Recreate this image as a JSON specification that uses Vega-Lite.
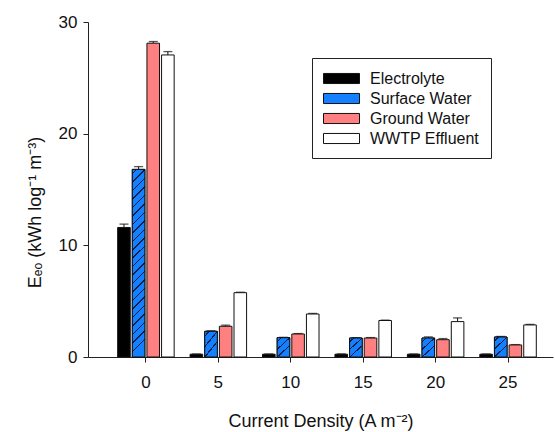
{
  "$schema": "https://vega.github.io/schema/vega-lite/v6.json",
  "autosize": "none",
  "padding": {"left": 88, "top": 22, "right": 2, "bottom": 75},
  "width": 465,
  "height": 335,
  "background": "white",
  "config": {
    "font": "Liberation Sans",
    "view": {"stroke": null},
    "axis": {"labelFont": "Liberation Sans", "titleFont": "Liberation Sans", "labelColor": "#111", "titleColor": "#111", "domainColor": "#222", "tickColor": "#222", "titleFontWeight": "normal", "grid": false}
  },
  "data": {
    "values": [
      {"cd": "0", "series": "Electrolyte", "value": 11.6, "hi": 11.9},
      {"cd": "0", "series": "Surface Water", "value": 16.8, "hi": 17.05},
      {"cd": "0", "series": "Ground Water", "value": 28.1, "hi": 28.25},
      {"cd": "0", "series": "WWTP Effluent", "value": 27.05, "hi": 27.35},
      {"cd": "5", "series": "Electrolyte", "value": 0.25, "hi": 0.27},
      {"cd": "5", "series": "Surface Water", "value": 2.3, "hi": 2.35},
      {"cd": "5", "series": "Ground Water", "value": 2.75, "hi": 2.85},
      {"cd": "5", "series": "WWTP Effluent", "value": 5.76, "hi": 5.8},
      {"cd": "10", "series": "Electrolyte", "value": 0.25, "hi": 0.27},
      {"cd": "10", "series": "Surface Water", "value": 1.73, "hi": 1.76},
      {"cd": "10", "series": "Ground Water", "value": 2.06, "hi": 2.1},
      {"cd": "10", "series": "WWTP Effluent", "value": 3.85, "hi": 3.9},
      {"cd": "15", "series": "Electrolyte", "value": 0.25, "hi": 0.27},
      {"cd": "15", "series": "Surface Water", "value": 1.7, "hi": 1.73},
      {"cd": "15", "series": "Ground Water", "value": 1.7, "hi": 1.74},
      {"cd": "15", "series": "WWTP Effluent", "value": 3.27, "hi": 3.3},
      {"cd": "20", "series": "Electrolyte", "value": 0.25, "hi": 0.27},
      {"cd": "20", "series": "Surface Water", "value": 1.7, "hi": 1.8},
      {"cd": "20", "series": "Ground Water", "value": 1.55, "hi": 1.65},
      {"cd": "20", "series": "WWTP Effluent", "value": 3.17, "hi": 3.5},
      {"cd": "25", "series": "Electrolyte", "value": 0.25, "hi": 0.27},
      {"cd": "25", "series": "Surface Water", "value": 1.79, "hi": 1.84},
      {"cd": "25", "series": "Ground Water", "value": 1.08, "hi": 1.11},
      {"cd": "25", "series": "WWTP Effluent", "value": 2.87, "hi": 2.92}
    ]
  },
  "encoding": {
    "x": {
      "field": "cd", "type": "ordinal", "sort": ["0", "5", "10", "15", "20", "25"],
      "scale": {"paddingInner": 0.22, "paddingOuter": 0.32, "align": 0.64},
      "axis": {"title": "Current Density (A m⁻²)", "labelAngle": 0, "labelFontSize": 17, "titleFontSize": 18, "tickSize": 5, "labelPadding": 12, "titlePadding": 22, "domainWidth": 1}
    },
    "xOffset": {
      "field": "series", "type": "nominal",
      "sort": ["Electrolyte", "Surface Water", "Ground Water", "WWTP Effluent"],
      "scale": {"paddingInner": 0.14, "paddingOuter": 0}
    }
  },
  "layer": [
    {
      "mark": {"type": "rule", "color": "#111", "strokeWidth": 1},
      "encoding": {
        "y": {"field": "value", "type": "quantitative"},
        "y2": {"field": "hi"}
      }
    },
    {
      "mark": {"type": "tick", "color": "#111", "thickness": 1.3, "size": 9},
      "encoding": {
        "y": {"field": "hi", "type": "quantitative"}
      }
    },
    {
      "mark": {"type": "bar", "stroke": "#111", "strokeWidth": 1},
      "encoding": {
        "y": {
          "field": "value", "type": "quantitative",
          "scale": {"domain": [0, 30], "nice": false, "zero": true},
          "axis": {"title": "Eₑₒ (kWh log⁻¹ m⁻³)", "values": [0, 10, 20, 30], "labelFontSize": 17, "titleFontSize": 18, "tickSize": 5, "labelPadding": 6, "titlePadding": 14, "titleY": 190}
        },
        "fill": {
          "field": "series", "type": "nominal",
          "sort": ["Electrolyte", "Surface Water", "Ground Water", "WWTP Effluent"],
          "scale": {"domain": ["Electrolyte", "Surface Water", "Ground Water", "WWTP Effluent"], "range": ["#000000", "#1580ff", "#ff8080", "#ffffff"]},
          "legend": {
            "orient": "none", "legendX": 224, "legendY": 36, "title": null,
            "symbolType": "M-2,-0.56H2V0.56H-2Z", "symbolSize": 324, "symbolOffset": 9,
            "symbolStrokeColor": "#111", "symbolStrokeWidth": 1,
            "labelFontSize": 16, "labelColor": "#111", "labelFont": "Liberation Sans",
            "labelOffset": 19, "rowPadding": 2,
            "padding": 11, "strokeColor": "#222", "fillColor": "white",
            "encode": {
              "symbols": {
                "update": {
                  "stroke": {"value": "#111"},
                  "strokeWidth": {"value": 1},
                  "opacity": {"value": 1},
                  "fill": [
                    {"test": "datum.label === 'Surface Water' || datum.value === 'Surface Water'", "value": {"gradient": "linear", "x1": 0, "y1": 0, "x2": 1, "y2": 0.28, "stops": [
                      {"offset": 0, "color": "#1580ff"},
                      {"offset": 0.068, "color": "#1580ff"}, {"offset": 0.068, "color": "#0d1d3d"}, {"offset": 0.104, "color": "#0d1d3d"}, {"offset": 0.104, "color": "#1580ff"},
                      {"offset": 0.241, "color": "#1580ff"}, {"offset": 0.241, "color": "#0d1d3d"}, {"offset": 0.277, "color": "#0d1d3d"}, {"offset": 0.277, "color": "#1580ff"},
                      {"offset": 0.414, "color": "#1580ff"}, {"offset": 0.414, "color": "#0d1d3d"}, {"offset": 0.45, "color": "#0d1d3d"}, {"offset": 0.45, "color": "#1580ff"},
                      {"offset": 0.587, "color": "#1580ff"}, {"offset": 0.587, "color": "#0d1d3d"}, {"offset": 0.623, "color": "#0d1d3d"}, {"offset": 0.623, "color": "#1580ff"},
                      {"offset": 0.76, "color": "#1580ff"}, {"offset": 0.76, "color": "#0d1d3d"}, {"offset": 0.796, "color": "#0d1d3d"}, {"offset": 0.796, "color": "#1580ff"},
                      {"offset": 0.933, "color": "#1580ff"}, {"offset": 0.933, "color": "#0d1d3d"}, {"offset": 0.969, "color": "#0d1d3d"}, {"offset": 0.969, "color": "#1580ff"},
                      {"offset": 1, "color": "#1580ff"}
                    ]}},
                    {"scale": "fill", "field": "value"}
                  ]
                }
              }
            }
          }
        }
      }
    },
    {
      "transform": [{"filter": "datum.series === 'Surface Water'"}],
      "mark": {"type": "bar", "stroke": "#111", "strokeWidth": 1},
      "encoding": {
        "y": {"field": "value", "type": "quantitative"},
        "fill": {
          "condition": {"test": "datum.cd === '0'", "value": {"gradient": "linear", "x1": 0, "y1": 0, "x2": 0.067, "y2": 1, "stops": [
            {"offset": 0, "color": "#1580ff"},
            {"offset": 0.0185, "color": "#1580ff"}, {"offset": 0.0185, "color": "#0d1d3d"}, {"offset": 0.0265, "color": "#0d1d3d"}, {"offset": 0.0265, "color": "#1580ff"},
            {"offset": 0.0635, "color": "#1580ff"}, {"offset": 0.0635, "color": "#0d1d3d"}, {"offset": 0.0715, "color": "#0d1d3d"}, {"offset": 0.0715, "color": "#1580ff"},
            {"offset": 0.1085, "color": "#1580ff"}, {"offset": 0.1085, "color": "#0d1d3d"}, {"offset": 0.1165, "color": "#0d1d3d"}, {"offset": 0.1165, "color": "#1580ff"},
            {"offset": 0.1535, "color": "#1580ff"}, {"offset": 0.1535, "color": "#0d1d3d"}, {"offset": 0.1615, "color": "#0d1d3d"}, {"offset": 0.1615, "color": "#1580ff"},
            {"offset": 0.1985, "color": "#1580ff"}, {"offset": 0.1985, "color": "#0d1d3d"}, {"offset": 0.2065, "color": "#0d1d3d"}, {"offset": 0.2065, "color": "#1580ff"},
            {"offset": 0.2435, "color": "#1580ff"}, {"offset": 0.2435, "color": "#0d1d3d"}, {"offset": 0.2515, "color": "#0d1d3d"}, {"offset": 0.2515, "color": "#1580ff"},
            {"offset": 0.2885, "color": "#1580ff"}, {"offset": 0.2885, "color": "#0d1d3d"}, {"offset": 0.2965, "color": "#0d1d3d"}, {"offset": 0.2965, "color": "#1580ff"},
            {"offset": 0.3335, "color": "#1580ff"}, {"offset": 0.3335, "color": "#0d1d3d"}, {"offset": 0.3415, "color": "#0d1d3d"}, {"offset": 0.3415, "color": "#1580ff"},
            {"offset": 0.3785, "color": "#1580ff"}, {"offset": 0.3785, "color": "#0d1d3d"}, {"offset": 0.3865, "color": "#0d1d3d"}, {"offset": 0.3865, "color": "#1580ff"},
            {"offset": 0.4235, "color": "#1580ff"}, {"offset": 0.4235, "color": "#0d1d3d"}, {"offset": 0.4315, "color": "#0d1d3d"}, {"offset": 0.4315, "color": "#1580ff"},
            {"offset": 0.4685, "color": "#1580ff"}, {"offset": 0.4685, "color": "#0d1d3d"}, {"offset": 0.4765, "color": "#0d1d3d"}, {"offset": 0.4765, "color": "#1580ff"},
            {"offset": 0.5135, "color": "#1580ff"}, {"offset": 0.5135, "color": "#0d1d3d"}, {"offset": 0.5215, "color": "#0d1d3d"}, {"offset": 0.5215, "color": "#1580ff"},
            {"offset": 0.5585, "color": "#1580ff"}, {"offset": 0.5585, "color": "#0d1d3d"}, {"offset": 0.5665, "color": "#0d1d3d"}, {"offset": 0.5665, "color": "#1580ff"},
            {"offset": 0.6035, "color": "#1580ff"}, {"offset": 0.6035, "color": "#0d1d3d"}, {"offset": 0.6115, "color": "#0d1d3d"}, {"offset": 0.6115, "color": "#1580ff"},
            {"offset": 0.6485, "color": "#1580ff"}, {"offset": 0.6485, "color": "#0d1d3d"}, {"offset": 0.6565, "color": "#0d1d3d"}, {"offset": 0.6565, "color": "#1580ff"},
            {"offset": 0.6935, "color": "#1580ff"}, {"offset": 0.6935, "color": "#0d1d3d"}, {"offset": 0.7015, "color": "#0d1d3d"}, {"offset": 0.7015, "color": "#1580ff"},
            {"offset": 0.7385, "color": "#1580ff"}, {"offset": 0.7385, "color": "#0d1d3d"}, {"offset": 0.7465, "color": "#0d1d3d"}, {"offset": 0.7465, "color": "#1580ff"},
            {"offset": 0.7835, "color": "#1580ff"}, {"offset": 0.7835, "color": "#0d1d3d"}, {"offset": 0.7915, "color": "#0d1d3d"}, {"offset": 0.7915, "color": "#1580ff"},
            {"offset": 0.8285, "color": "#1580ff"}, {"offset": 0.8285, "color": "#0d1d3d"}, {"offset": 0.8365, "color": "#0d1d3d"}, {"offset": 0.8365, "color": "#1580ff"},
            {"offset": 0.8735, "color": "#1580ff"}, {"offset": 0.8735, "color": "#0d1d3d"}, {"offset": 0.8815, "color": "#0d1d3d"}, {"offset": 0.8815, "color": "#1580ff"},
            {"offset": 0.9185, "color": "#1580ff"}, {"offset": 0.9185, "color": "#0d1d3d"}, {"offset": 0.9265, "color": "#0d1d3d"}, {"offset": 0.9265, "color": "#1580ff"},
            {"offset": 0.9635, "color": "#1580ff"}, {"offset": 0.9635, "color": "#0d1d3d"}, {"offset": 0.9715, "color": "#0d1d3d"}, {"offset": 0.9715, "color": "#1580ff"},
            {"offset": 1, "color": "#1580ff"}
          ]}},
          "value": {"gradient": "linear", "x1": 0, "y1": 0, "x2": 0.6, "y2": 1, "stops": [
            {"offset": 0, "color": "#1580ff"},
            {"offset": 0.121, "color": "#1580ff"}, {"offset": 0.121, "color": "#0d1d3d"}, {"offset": 0.173, "color": "#0d1d3d"}, {"offset": 0.173, "color": "#1580ff"},
            {"offset": 0.415, "color": "#1580ff"}, {"offset": 0.415, "color": "#0d1d3d"}, {"offset": 0.467, "color": "#0d1d3d"}, {"offset": 0.467, "color": "#1580ff"},
            {"offset": 0.709, "color": "#1580ff"}, {"offset": 0.709, "color": "#0d1d3d"}, {"offset": 0.761, "color": "#0d1d3d"}, {"offset": 0.761, "color": "#1580ff"},
            {"offset": 1, "color": "#1580ff"}
          ]}
        }
      }
    }
  ]
}
